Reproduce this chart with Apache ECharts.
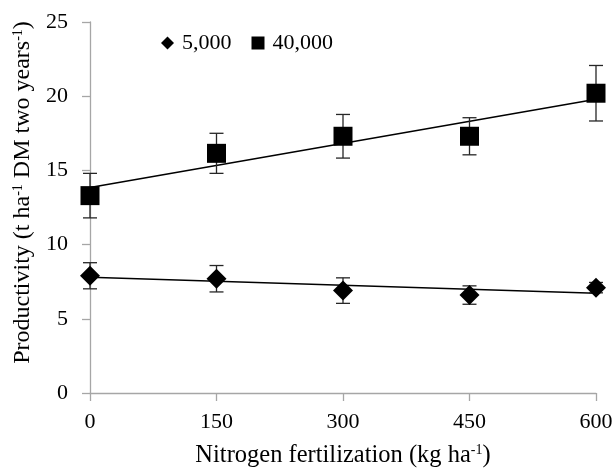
<!DOCTYPE html>
<html>
<head>
<meta charset="utf-8">
<script src="https://cdn.jsdelivr.net/npm/echarts@6/dist/echarts.min.js"></script>
<style>
  html, body { margin: 0; padding: 0; background: #fff; }
  #chart { width: 615px; height: 470px; }
</style>
</head>
<body>
<div id="chart"></div>
<script>
// nitrogen levels (kg ha-1)
var nitrogen = [0, 150, 300, 450, 600];
// productivity, 5,000 plants
var prod5k = [7.9, 7.7, 6.9, 6.6, 7.1];
var err5k = [0.88, 0.89, 0.86, 0.62, 0.35];
// productivity, 40,000 plants
var prod40k = [13.3, 16.15, 17.3, 17.3, 20.2];
var err40k = [1.5, 1.35, 1.47, 1.25, 1.87];
// fitted lines, read at x = 0 and x = 600
var trendX = [0, 600];
var trend5k = [7.8, 6.73];
var trend40k = [13.85, 19.8];
var yTicks = [0, 5, 10, 15, 20, 25];

var FONT = "'Liberation Serif', 'Times New Roman', serif";

function pts(xs, ys) {
    return xs.map(function (x, i) { return [x, ys[i]]; });
}
function bars(xs, ys, es) {
    return xs.map(function (x, i) { return [x, ys[i] - es[i], ys[i] + es[i]]; });
}

function renderErr(params, api) {
    var lo = api.coord([api.value(0), api.value(1)]);
    var hi = api.coord([api.value(0), api.value(2)]);
    var w = 7;
    var st = { stroke: '#262626', lineWidth: 1.3 };
    return {
        type: 'group',
        children: [
            { type: 'line', shape: { x1: hi[0], y1: hi[1], x2: lo[0], y2: lo[1] }, style: st },
            { type: 'line', shape: { x1: hi[0] - w, y1: hi[1], x2: hi[0] + w, y2: hi[1] }, style: st },
            { type: 'line', shape: { x1: lo[0] - w, y1: lo[1], x2: lo[0] + w, y2: lo[1] }, style: st }
        ]
    };
}

var supStyle = { fontFamily: FONT, fontSize: 14, color: '#000', verticalAlign: 'top', padding: [0, 0, 9, 0] };

var chart = echarts.init(document.getElementById('chart'));

chart.setOption({
    animation: false,
    textStyle: { fontFamily: FONT, color: '#000' },
    grid: { left: 90, right: 19, top: 22, bottom: 77, containLabel: false, outerBoundsMode: 'none' },
    legend: {
        left: 156,
        top: 27,
        itemWidth: 13,
        itemHeight: 13,
        itemGap: 20,
        textStyle: { fontFamily: FONT, fontSize: 22, color: '#000', padding: [0, 0, 0, 3] },
        data: [
            { name: '5,000', icon: 'diamond' },
            { name: '40,000', icon: 'rect' }
        ]
    },
    xAxis: {
        type: 'value',
        min: 0,
        max: 600,
        interval: 150,
        name: 'Nitrogen fertilization (kg ha{sup|-1})',
        nameLocation: 'middle',
        nameGap: 50,
        nameTextStyle: {
            fontFamily: FONT, fontSize: 24.5, color: '#000',
            rich: { sup: supStyle }
        },
        axisLine: { lineStyle: { color: '#a6a6a6', width: 1.3 } },
        axisTick: { show: true, length: 8, lineStyle: { color: '#a6a6a6', width: 1.3 } },
        axisLabel: { fontFamily: FONT, fontSize: 22, color: '#000', margin: 18 },
        splitLine: { show: false }
    },
    yAxis: {
        type: 'value',
        min: yTicks[0],
        max: yTicks[yTicks.length - 1],
        interval: 5,
        name: 'Productivity (t ha{sup|-1} DM two years{sup|-1})',
        nameLocation: 'middle',
        nameGap: 54,
        nameTextStyle: {
            fontFamily: FONT, fontSize: 24, color: '#000',
            padding: [0, 0, 0, 30],
            rich: { sup: supStyle }
        },
        axisLine: { show: true, lineStyle: { color: '#a6a6a6', width: 1.3 } },
        axisTick: { show: true, length: 8, lineStyle: { color: '#a6a6a6', width: 1.3 } },
        axisLabel: { fontFamily: FONT, fontSize: 22, color: '#000', margin: 22 },
        splitLine: { show: false }
    },
    series: [
        {
            name: 'trend5k', type: 'line', data: pts(trendX, trend5k),
            showSymbol: false, symbol: 'none', lineStyle: { color: '#000', width: 1.5 },
            z: 2, silent: true
        },
        {
            name: 'trend40k', type: 'line', data: pts(trendX, trend40k),
            showSymbol: false, symbol: 'none', lineStyle: { color: '#000', width: 1.5 },
            z: 2, silent: true
        },
        {
            name: 'err5k', type: 'custom', data: bars(nitrogen, prod5k, err5k),
            renderItem: renderErr, clip: false, z: 3
        },
        {
            name: 'err40k', type: 'custom', data: bars(nitrogen, prod40k, err40k),
            renderItem: renderErr, clip: false, z: 3
        },
        {
            name: '5,000', type: 'scatter', data: pts(nitrogen, prod5k),
            symbol: 'diamond', symbolSize: 20, clip: false,
            itemStyle: { color: '#000', opacity: 1 }, z: 4
        },
        {
            name: '40,000', type: 'scatter', data: pts(nitrogen, prod40k),
            symbol: 'rect', symbolSize: 19, clip: false,
            itemStyle: { color: '#000', opacity: 1 }, z: 4
        }
    ]
});
</script>
</body>
</html>
